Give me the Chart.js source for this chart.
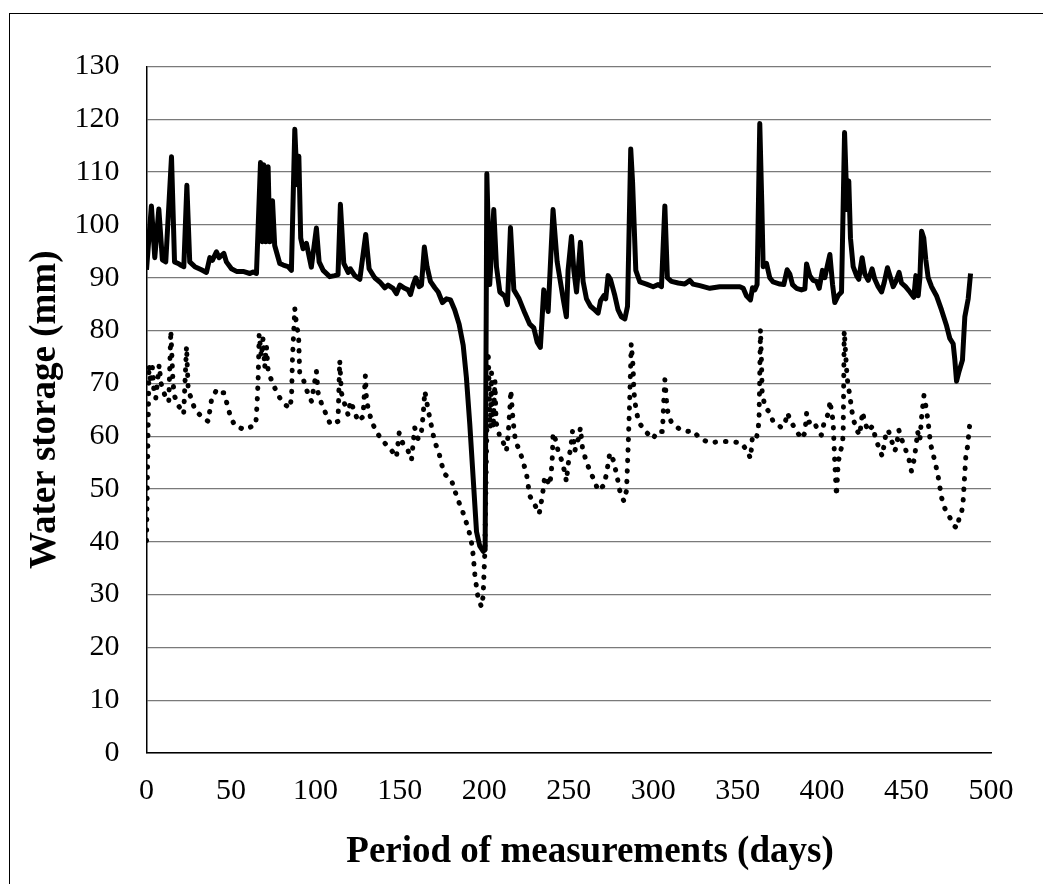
<!DOCTYPE html>
<html>
<head>
<meta charset="utf-8">
<script src="https://cdn.jsdelivr.net/npm/chart.js@4.4.1/dist/chart.umd.min.js"></script>
<style>
  html, body { margin: 0; padding: 0; background: #fff; }
  #wrap { position: relative; width: 1043px; height: 884px; overflow: hidden; }
  #frame { position: absolute; left: 9px; top: 13px; width: 1100px; height: 1000px; border-left: 1.5px solid #000; border-top: 1.5px solid #000; }
  canvas { position: absolute; left: 0; top: 0; }
</style>
</head>
<body>
<div id="wrap">
  <div id="frame"></div>
  <canvas id="chart" width="1043" height="884"></canvas>
</div>
<script>
// solid line (upper curve)
const profileDays = [
  0, 2.9, 4.9, 7.3, 9.4, 11.4, 14.8, 16.6, 18.7, 20.7, 22.1, 23.9, 25.6, 28.6, 32.5, 35.5,
  37.5, 39, 41.4, 43, 45.8, 47.3, 50.3, 53.3, 57.2, 61.2, 63.1, 65.1, 67.5, 68.6, 69.4, 70.6,
  72, 73, 74.6, 75.9, 78.9, 81, 83.8, 85.8, 87.8, 89.2, 90.2, 91.3, 92.7, 94.7, 97.6, 100.6,
  102.2, 104.6, 108.5, 111.5, 113.4, 114.8, 116.8, 119.4, 120.7, 123.3, 126.3, 129.8, 131.8,
  135.1, 138.1, 141.1, 143, 146, 148, 150, 152.9, 154.9, 156.3, 157.8, 159.4, 161.4, 162.8,
  164.5, 166.1, 168.1, 170.7, 172.7, 175.2, 177.6, 180, 182.5, 185.1, 187.5, 189.4, 191.4,
  193.4, 195.4, 197.3, 199.3, 200.5, 201.5, 203.2, 205.6, 207.2, 209.2, 212.1, 213.7, 215.5,
  217.5, 220.6, 224, 226.9, 229.3, 231.3, 233.2, 235.2, 237.8, 240.7, 243.1, 245.7, 246.7,
  248.6, 249.6, 251.6, 253, 254.6, 256.9, 258.5, 260.5, 262.9, 265.4, 267.4, 268.8, 270.8,
  271.9, 273.3, 274.7, 277.3, 279.2, 281.2, 283.2, 284.8, 285.6, 286.7, 287.8, 289.7, 292.1,
  296, 300, 302.9, 304.9, 306.9, 308.4, 310.8, 314.8, 318.7, 321.7, 323.6, 327.6, 333.5,
  339.4, 345.4, 351.3, 353.3, 355.2, 357.6, 358.8, 360.2, 361.5, 363.1, 364.3, 365.1, 367.1,
  369, 371, 375, 377.3, 379.3, 380.9, 382.5, 384.8, 387.8, 389.8, 390.8, 392.7, 394.7, 396.7,
  398.3, 400.2, 401.6, 403.2, 404.6, 406.2, 407.5, 409.5, 411.5, 413.3, 414.8, 415.8, 416.8,
  418.4, 420.4, 421.7, 423.7, 425.3, 427.3, 429.6, 431.2, 433.2, 435.2, 436.7, 438.7, 440.5,
  442.1, 443.7, 445.6, 447, 449.4, 452, 454.3, 455.5, 456.9, 457.9, 458.9, 460.2, 461.4,
  462.8, 464.8, 467.7, 470.7, 473.7, 475.6, 477.6, 478.6, 479.6, 481.2, 483.1, 484.5, 486.5,
  487.9
];
const profileStorage = [
  91.5, 103.6, 93.8, 103, 93.4, 93, 112.9, 93, 92.7, 92.3, 92.1, 107.5, 93, 92.1, 91.5, 91,
  93.8, 93.3, 94.9, 93.8, 94.6, 93, 91.7, 91.2, 91.2, 90.8, 91.1, 90.8, 111.8, 96.8, 111.4, 96.8,
  111, 96.8, 104.6, 96.1, 92.7, 92.4, 92.1, 91.4, 118.1, 107.6, 113, 97.5, 95.5, 96.5, 92, 99.4,
  93, 91.4, 90.2, 90.4, 90.6, 103.9, 92.7, 91, 91.7, 90.4, 89.7, 98.2, 91.7,
  90, 89.2, 88.1, 88.6, 88, 87, 88.6, 88, 87.7, 86.8, 88.6, 90, 88.3, 88.6,
  95.8, 92.1, 89.3, 88.1, 87.3, 85.3, 86, 85.8, 83.9, 81.2, 77.2, 71.1, 62.3,
  52.1, 41.9, 39.2, 38.2, 38.5, 109.7, 88.7, 102.9, 92.1, 87.3, 86.5, 84.9, 99.5,
  87.7, 86, 83.3, 81.2, 80.5, 77.8, 76.8, 87.7, 83.6, 102.9, 93.1, 88, 86,
  82.6, 91.4, 97.8, 91.4, 87.3, 96.7, 89.3, 86, 84.6, 83.9, 83.3, 85.6, 86.6,
  86, 90.4, 89.7, 86.6, 83.9, 82.6, 82.2, 84.6, 97, 114.4, 108, 91.4, 89.2,
  88.8, 88.3, 88.7, 88.3, 103.6, 90, 89.3, 89, 88.8, 89.5, 88.8, 88.5, 88,
  88.3, 88.3, 88.3, 88, 86.6, 85.8, 88.1, 87.7, 88.7, 119.2, 104, 92.1, 92.7,
  90, 89.2, 88.8, 88.7, 91.5, 90.7, 88.7, 88, 87.7, 87.9, 92.6, 90.4, 89.5, 89.3,
  88, 91.4, 90, 92.4, 94.4, 88.7, 85.3, 86.6, 87.3, 117.5, 102.9, 108.3, 97.5,
  92.1, 90.4, 89.7, 93.8, 90.7, 89.5, 91.7, 89.7, 88.3, 87.3, 89, 91.9, 90,
  88.3, 89.3, 91, 89, 88.3, 87.3, 86.3, 90.4, 86.6, 90, 98.8, 97.5, 93.4,
  90, 88.3, 86.6, 83.9, 80.9, 78.5, 77.5, 74.4, 70.4, 72.4, 74.4, 82.6, 86,
  90.8
];

// dotted line (lower curve)
const layerDays = [
  0, 1.5, 2.5, 3.5, 4.5, 5.5, 7.5, 8.6, 10.8, 13.2, 14.4, 15.7, 16.7, 19.3, 22, 23.7, 24.7,
  26.7, 28.7, 32.6, 36.5, 38.5, 41.5, 43.4, 45.8, 47.8, 49.7, 52.3, 58.2, 62.1, 64.7, 65.5,
  66.1, 66.7, 68, 69, 70, 71, 72, 73.5, 76, 79, 81.9, 84.9, 85.9, 86.4, 87.8, 89, 90, 90.7,
  92.7, 94.7, 97.7, 100.6, 101.6, 103.5, 106.5, 108.9, 113.4, 114.4, 115.4, 117.4, 119.4,
  120.7, 123.3, 125.2, 128.2, 129.6, 130.2, 131.2, 133.1, 135.5, 139, 141.6, 145.3, 148,
  149.6, 151.9, 154.9, 156.9, 158.8, 160.8, 162.5, 163.8, 164.8, 165.7, 166.7, 168.1, 169.3,
  170.7, 173.2, 174.6, 176.6, 180.5, 182.5, 184.7, 187, 189, 191, 192.4, 193.4, 194.4, 195.4,
  196.3, 198.3, 199.3, 200.3, 202.3, 203.5, 204.3, 205.3, 206.3, 207, 208.5, 209.2, 211.1,
  213.1, 214.1, 215.1, 215.7, 216.7, 217.7, 218.6, 221, 223, 225, 226.9, 229.9, 232.5, 234.4,
  235.8, 238.8, 239.8, 240.3, 240.7, 242.3, 243.7, 245.7, 247.7, 248.6, 249.6, 250.6, 251.6,
  252.2, 253.6, 254.6, 256.1, 256.9, 258.1, 260.1, 262.5, 265, 267.4, 270.8, 272.3, 273.3,
  274.3, 276.3, 277.9, 279.2, 280.2, 282.6, 284.2, 285.2, 286.1, 287, 288.1, 288.5, 289.1,
  290.1, 291.5, 295.4, 300, 302.3, 305.5, 306.3, 306.9, 307.9, 308.8, 310.8, 316.1, 320.7,
  323.6, 327.6, 333.5, 339.4, 345.8, 352.3, 355.6, 357.6, 358.2, 358.8, 361.2, 362.3, 362.7,
  363.5, 364.1, 364.5, 366.1, 368.6, 371, 376, 377.9, 379.5, 381.3, 384.4, 387.8, 389.8,
  390.8, 391.7, 395.1, 397.7, 399.6, 401, 402.6, 404.2, 404.6, 406.5, 407.5, 408.5, 409.5,
  410.5, 412.1, 412.5, 413.1, 413.9, 414.8, 415.4, 416.4, 417.4, 418.4, 420.4, 422.3, 423.9,
  425.3, 427.3, 429.8, 431.2, 433.2, 435.6, 437.5, 439.1, 441.1, 443.1, 444.1, 445.4, 447,
  449.4, 451.5, 452.9, 453.9, 454.9, 455.9, 456.5, 457.9, 458.9, 460.3, 461.8, 462.8, 464.2,
  465.8, 467.3, 468.7, 469.7, 470.7, 472.7, 475.6, 478.6, 480, 481.2, 482.5, 483.5, 485.1,
  486.1, 487.5
];
const layerStorage = [
  40.2, 73.5, 70, 73, 68, 67.2, 73.5, 70, 67.8, 66.5, 80, 70, 67.5, 65.6, 64.2, 77, 68.8,
  66.9, 65, 63.7, 62.8, 66.9, 68.8, 68.2, 68.2, 66, 63.7, 62, 61.2, 61.8, 62.2, 66.3,
  70.7, 79.3, 75, 78.5, 73, 77, 72.5, 71, 69.1, 67.2, 66, 65.3, 67.5, 74.5, 84.2, 80.5, 79.5, 72,
  70.9, 68.8, 66.6, 72.3, 68.2, 66.3, 64, 62.2, 62.8, 74.3, 68.2, 66, 64,
  66.6, 64.6, 62.8, 63.7, 71.5, 67.2, 65.3, 63, 61.2, 59.4, 58.5, 57.2, 56,
  60.6, 58.5, 57.2, 55.5, 61.6, 59.5, 60, 64, 68.5, 67, 65, 62.9, 60.9,
  58.9, 56.8, 54.8, 52.8, 51.7, 49.7, 47.7, 45.9, 44, 41.9, 39.9, 37.5, 33.8, 31.4,
  29.4, 27.7, 29.7, 37.9, 76, 61.5, 72, 61.5, 70.5, 62.5, 61, 59.5, 58.9,
  57.2, 60.2, 65, 68.7, 64.3, 60.9, 58.9, 57.2, 55.1, 52.8, 48.7, 47, 45.3, 48.7,
  52.4, 50.7, 53.8, 56.2, 60.6, 59.2, 57.2, 55.5, 53.1, 51.4, 54.5, 56.8, 58.9,
  60.9, 57.2, 58.5, 59.9, 61.6, 57.8, 55.5, 53.4, 51.7, 49.7, 50.7, 52.8, 54.8,
  56.8, 55.5, 53.4, 51.4, 49.7, 47.7, 49.7, 58.2, 67, 77.5, 73.1, 69, 66.7,
  64.6, 62.6, 60.9, 59.5, 60.9, 60.9, 67, 70.7, 66.7, 64.3, 62.6, 61.2, 60.9,
  61, 59.6, 58.7, 59, 59, 58.7, 57.2, 55.8, 57.8, 60.1, 59.7, 61.9, 63.9,
  80.2, 74.1, 68.4, 65.6, 64.6, 62.8, 61.6, 62.3, 64.4, 62.9, 61.2, 59.5, 60.6,
  64.3, 62.6, 62.9, 60.9, 60.2, 62.3, 63.3, 65, 66.7, 62.9, 55, 48.7, 54.8,
  56.8, 58.5, 60.9, 79.9, 75.8, 71.1, 69.7, 67.7, 65.3, 63.3, 61.2, 60.2, 64.6,
  62.6, 60.9, 61.9, 60.2, 58.2, 56.2, 59.9, 61.2, 59.2, 57.2, 58.2, 61.2, 59.5,
  57.5, 55.5, 53.4, 54.5, 56.5, 58.9, 60.9, 59.2, 63.6, 67.7, 65, 62.6, 58.5,
  56.5, 54.5, 52.4, 50.4, 48.4, 46.3, 44.6, 42.9, 42.6, 44.6, 45.3, 47.7, 56.2,
  58, 62.5
];

const xTicks = [0, 50, 100, 150, 200, 250, 300, 350, 400, 450, 500];
const yTicks = [0, 10, 20, 30, 40, 50, 60, 70, 80, 90, 100, 110, 120, 130];
const xTitle = "Period of measurements (days)";
const yTitle = "Water storage (mm)";

const toPoints = (xs, ys) => xs.map((x, i) => ({ x, y: ys[i] }));

// axis titles drawn by hand so they can sit where the original has them
const axisTitles = {
  id: "axisTitles",
  afterDraw(chart) {
    const { ctx, chartArea } = chart;
    ctx.save();
    ctx.fillStyle = "#000";
    ctx.font = 'bold 37px "Liberation Serif"';
    ctx.textAlign = "center";
    ctx.textBaseline = "alphabetic";
    ctx.fillText(xTitle, 590, 862);
    ctx.translate(55, (chartArea.top + chartArea.bottom) / 2);
    ctx.rotate(-Math.PI / 2);
    ctx.fillText(yTitle, 0, 0);
    ctx.restore();
  }
};

const tickFont = { family: "Liberation Serif", size: 30 };

new Chart(document.getElementById("chart"), {
  type: "line",
  data: {
    datasets: [
      {
        label: "profile",
        data: toPoints(profileDays, profileStorage),
        borderColor: "#000",
        borderWidth: 5,
        borderJoinStyle: "round",
        pointRadius: 0,
        tension: 0
      },
      {
        label: "layer",
        data: toPoints(layerDays, layerStorage),
        borderColor: "#000",
        borderWidth: 5,
        borderDash: [0.5, 10],
        borderCapStyle: "round",
        borderJoinStyle: "round",
        pointRadius: 0,
        tension: 0
      }
    ]
  },
  options: {
    responsive: false,
    animation: false,
    devicePixelRatio: 1,
    layout: { padding: { top: 66.5, right: 52, bottom: 0, left: 0 } },
    plugins: { legend: { display: false }, tooltip: { enabled: false } },
    scales: {
      x: {
        type: "linear",
        min: 0,
        max: 500,
        afterBuildTicks: s => { s.ticks = xTicks.map(v => ({ value: v })); },
        afterFit: s => { s.height = 131; },
        grid: { display: false, drawTicks: false },
        border: { display: true, color: "#000", width: 1.5 },
        ticks: { color: "#000", font: tickFont, padding: 20, maxRotation: 0, autoSkip: false }
      },
      y: {
        type: "linear",
        min: 0,
        max: 130,
        afterBuildTicks: s => { s.ticks = yTicks.map(v => ({ value: v })); },
        afterFit: s => { s.width = 146.5; },
        grid: { color: "#7a7a7a", lineWidth: 1.3, drawTicks: false },
        border: { color: "#000", width: 1.5 },
        ticks: { color: "#000", font: tickFont, padding: 27 }
      }
    }
  },
  plugins: [axisTitles]
});
</script>
</body>
</html>
